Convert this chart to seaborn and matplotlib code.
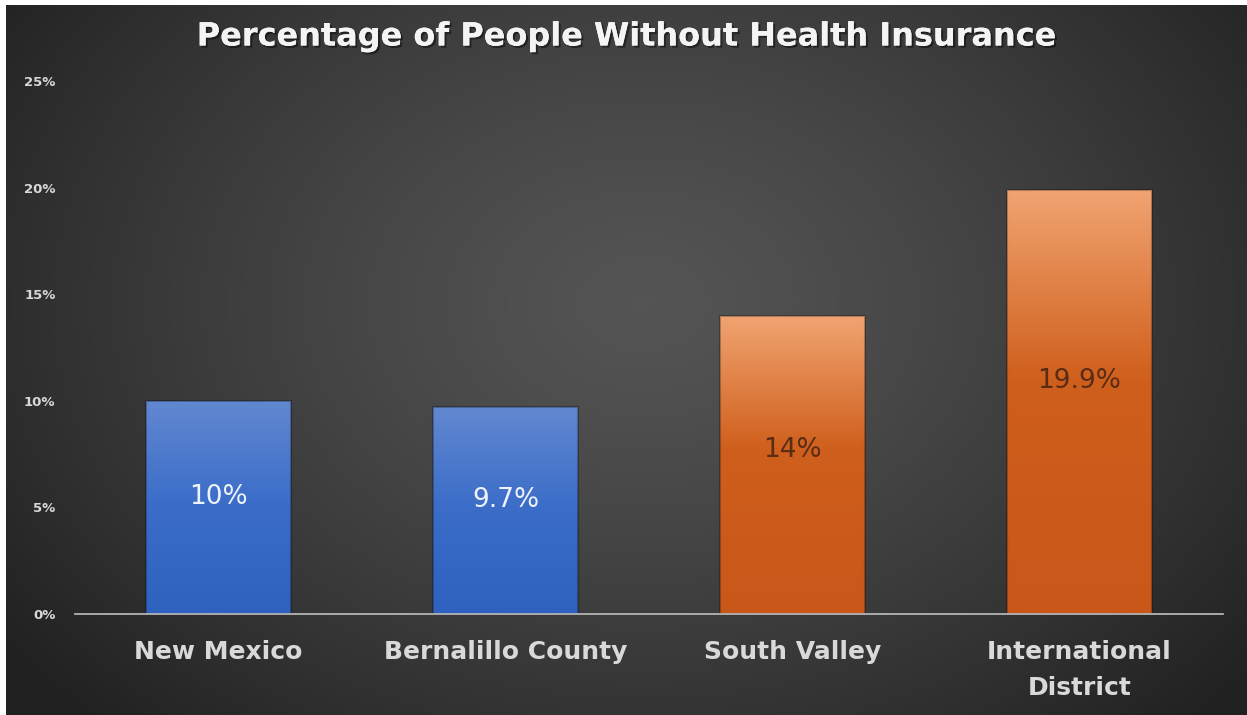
import numpy as np
import pandas as pd
import matplotlib
matplotlib.use("Agg")
import matplotlib.pyplot as plt
import matplotlib.patheffects as pe
import seaborn as sns
from matplotlib.colors import LinearSegmentedColormap

# Data
regions = ["New Mexico", "Bernalillo County", "South Valley", "International\nDistrict"]
uninsured_pct = [10.0, 9.7, 14.0, 19.9]
value_labels = ["10%", "9.7%", "14%", "19.9%"]
groups = ["state", "state", "local", "local"]
y_ticks = [0, 5, 10, 15, 20, 25]
y_tick_labels = ["0%", "5%", "10%", "15%", "20%", "25%"]

df = pd.DataFrame({"region": regions, "pct": uninsured_pct, "group": groups})

sns.set_theme(style="dark")
plt.rcParams["font.family"] = ["DejaVu Sans"]

W, H = 1247, 715
fig = plt.figure(figsize=(W / 100, H / 100), dpi=100)
fig.patch.set_facecolor("white")

# Radial dark backdrop
bg = fig.add_axes([6 / W, 0, 1 - 6 / W, 1 - 5 / H], zorder=-5)
yy, xx = np.mgrid[0:H, 0:W]
r = np.sqrt(((xx - 640) / 700.0) ** 2 + ((yy - 300) / 520.0) ** 2)
shade = np.clip(0.33 - 0.17 * r ** 1.3, 0.13, 0.34)
bg.imshow(np.dstack([shade, shade, shade]), aspect="auto", interpolation="bilinear")
bg.set_axis_off()

ax = fig.add_axes([75 / W, 1 - 614 / H, (1223 - 75) / W, (614 - 81) / H])
ax.set_facecolor("none")

palette = {"state": "#3f6fca", "local": "#d0641e"}
sns.barplot(data=df, x="region", y="pct", hue="group", palette=palette,
            dodge=False, width=0.505, legend=False, ax=ax, saturation=1)

ax.set_xlim(-0.5, 3.5)
ax.set_ylim(0, 25)

blue_cmap = LinearSegmentedColormap.from_list("b", ["#2f62bf", "#3a6cc8", "#6288d1"])
orange_cmap = LinearSegmentedColormap.from_list(
    "o", [(0, "#c9571a"), (0.55, "#cf5f1c"), (1.0, "#f1a472")])

patches = sorted([p for p in ax.patches if p.get_height() > 0], key=lambda p: p.get_x())
for i, p in enumerate(patches):
    x0, w, h = p.get_x(), p.get_width(), p.get_height()
    cmap = blue_cmap if groups[i] == "state" else orange_cmap
    grad = np.linspace(0, 1, 256).reshape(-1, 1)
    im = ax.imshow(grad, cmap=cmap, aspect="auto", origin="lower",
                   extent=[x0, x0 + w, 0, h], zorder=2, interpolation="bilinear")
    im.set_clip_path(p)
    p.set_facecolor("none")
    p.set_edgecolor((0, 0, 0, 0.25))
    p.set_linewidth(1.5)
    p.set_zorder(3)

# Value labels inside bars
for i, (v, lab) in enumerate(zip(uninsured_pct, value_labels)):
    color = "#eef2fb" if groups[i] == "state" else "#5a2c14"
    ax.text(i, v * 0.55, lab, ha="center", va="center", fontsize=19,
            color=color, zorder=5)

ax.set_yticks(y_ticks)
ax.set_yticklabels(y_tick_labels, fontsize=9.5, color="#d8d8d8", fontweight="bold")
ax.tick_params(axis="y", pad=14, length=0)
ax.tick_params(axis="x", length=0, pad=19)
for t in ax.get_xticklabels():
    t.set_fontsize(18)
    t.set_fontweight("bold")
    t.set_color("#d9d9d9")
    t.set_linespacing(1.6)
ax.set_xlabel("")
ax.set_ylabel("")
ax.grid(False)
for s in ["top", "right", "left"]:
    ax.spines[s].set_visible(False)
ax.spines["bottom"].set_color("#bfbfbf")
ax.spines["bottom"].set_linewidth(1.2)
ax.spines["bottom"].set_zorder(6)

title = fig.text(627 / W, 1 - 37 / H, "Percentage of People Without Health Insurance",
                 ha="center", va="center", fontsize=23, fontweight="bold", color="#f4f4f4")
title.set_path_effects([pe.withSimplePatchShadow(offset=(1.5, -1.5), shadow_rgbFace="black", alpha=0.45),
                        pe.Normal()])

fig.savefig("out.png", dpi=100, facecolor=fig.get_facecolor())
